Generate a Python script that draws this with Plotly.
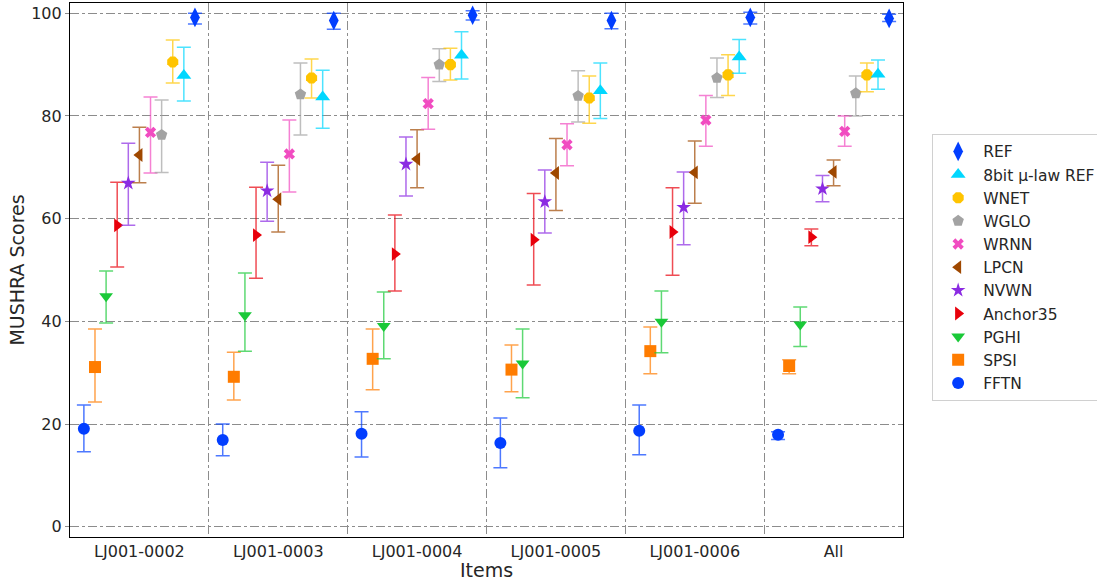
import plotly.graph_objects as go

ITEMS = ["LJ001-0002", "LJ001-0003", "LJ001-0004", "LJ001-0005", "LJ001-0006", "All"]

SYSTEMS = ["FFTN", "SPSI", "PGHI", "Anchor35", "NVWN", "LPCN", "WRNN", "WGLO", "WNET", "8bit µ-law REF", "REF"]

FFTN_MEAN = [19.1, 16.9, 18.1, 16.3, 18.7, 17.9]
FFTN_HI = [23.7, 20.0, 22.4, 21.2, 23.7, 18.5]
FFTN_LO = [14.6, 13.8, 13.6, 11.5, 14.0, 17.0]

SPSI_MEAN = [31.1, 29.2, 32.7, 30.6, 34.2, 31.3]
SPSI_HI = [38.5, 34.0, 38.5, 35.4, 38.9, 32.5]
SPSI_LO = [24.3, 24.7, 26.7, 26.3, 29.8, 29.8]

PGHI_MEAN = [44.9, 41.2, 39.1, 31.8, 39.9, 39.4]
PGHI_HI = [49.8, 49.4, 45.7, 38.5, 45.9, 42.8]
PGHI_LO = [39.7, 34.2, 32.7, 25.1, 33.9, 35.1]

ANCHOR_MEAN = [58.7, 56.8, 53.1, 55.9, 57.4, 56.4]
ANCHOR_HI = [67.1, 66.1, 60.7, 64.9, 66.0, 58.0]
ANCHOR_LO = [50.6, 48.4, 45.9, 47.1, 49.0, 54.7]

NVWN_MEAN = [66.9, 65.4, 70.6, 63.3, 62.2, 65.8]
NVWN_HI = [74.7, 71.0, 75.9, 69.5, 69.1, 68.4]
NVWN_LO = [58.7, 59.5, 64.4, 57.2, 54.9, 63.3]

LPCN_MEAN = [72.4, 63.8, 71.6, 68.9, 69.0, 69.1]
LPCN_HI = [77.8, 70.4, 77.3, 75.6, 75.1, 71.4]
LPCN_LO = [67.0, 57.4, 66.0, 61.6, 63.0, 66.4]

WRNN_MEAN = [76.8, 72.6, 82.4, 74.4, 79.2, 77.0]
WRNN_HI = [83.7, 79.2, 87.5, 78.5, 84.0, 80.0]
WRNN_LO = [68.9, 65.2, 77.4, 70.3, 74.1, 74.1]

WGLO_MEAN = [76.3, 84.2, 90.0, 83.9, 87.4, 84.4]
WGLO_HI = [83.1, 90.3, 93.1, 88.8, 91.3, 87.8]
WGLO_LO = [69.0, 76.3, 86.7, 78.8, 83.6, 80.0]

WNET_MEAN = [90.5, 87.4, 90.0, 83.5, 88.0, 88.0]
WNET_HI = [94.8, 91.1, 93.2, 87.8, 91.9, 90.3]
WNET_LO = [86.4, 83.5, 87.0, 78.6, 84.0, 84.7]

MULAW_MEAN = [87.9, 83.7, 91.8, 84.9, 91.5, 88.1]
MULAW_HI = [93.4, 88.9, 96.4, 90.3, 94.9, 90.9]
MULAW_LO = [82.9, 77.6, 87.2, 79.5, 88.3, 85.2]

REF_MEAN = [99.2, 98.6, 99.6, 98.6, 99.2, 99.0]
REF_HI = [100.0, 100.0, 100.5, 100.0, 100.2, 99.8]
REF_LO = [97.9, 96.9, 98.7, 97.0, 97.9, 98.4]

MEANS = [FFTN_MEAN, SPSI_MEAN, PGHI_MEAN, ANCHOR_MEAN, NVWN_MEAN, LPCN_MEAN,
         WRNN_MEAN, WGLO_MEAN, WNET_MEAN, MULAW_MEAN, REF_MEAN]
HIS = [FFTN_HI, SPSI_HI, PGHI_HI, ANCHOR_HI, NVWN_HI, LPCN_HI,
       WRNN_HI, WGLO_HI, WNET_HI, MULAW_HI, REF_HI]
LOS = [FFTN_LO, SPSI_LO, PGHI_LO, ANCHOR_LO, NVWN_LO, LPCN_LO,
       WRNN_LO, WGLO_LO, WNET_LO, MULAW_LO, REF_LO]

COLORS = ["#023eff", "#ff7c00", "#1ac938", "#e8000b", "#8b2be2", "#9f4800",
          "#f14cc1", "#a3a3a3", "#ffc400", "#00d7ff", "#023eff"]
SYMBOLS = ["circle", "square", "triangle-down", "triangle-right", "star", "triangle-left",
           "x", "pentagon", "octagon", "triangle-up", "diamond-tall"]
SIZES = [12, 12, 12, 12, 11, 12, 10, 12, 12, 13, 14]


def rgba(hexc, a):
    h = hexc.lstrip("#")
    r, g, b = int(h[0:2], 16), int(h[2:4], 16), int(h[4:6], 16)
    return f"rgba({r},{g},{b},{a})"


fig = go.Figure()
step = 0.08
n = len(SYSTEMS)
for i, name in enumerate(SYSTEMS):
    off = (i - (n - 1) / 2) * step
    xs = [k + off for k in range(len(ITEMS))]
    m = MEANS[i]
    up = [h - v for h, v in zip(HIS[i], m)]
    dn = [v - l for v, l in zip(m, LOS[i])]
    fig.add_trace(go.Scatter(
        x=xs, y=m, mode="markers", name=name,
        marker=dict(symbol=SYMBOLS[i], color=COLORS[i], size=SIZES[i],
                    line=dict(width=0)),
        error_y=dict(type="data", symmetric=False, array=up, arrayminus=dn,
                     color=rgba(COLORS[i], 0.7), thickness=1.5, width=7),
    ))

grid = "#8c8c8c"
fig.update_layout(
    width=1097, height=581,
    margin=dict(l=70, r=194, t=3, b=44, autoexpand=False),
    paper_bgcolor="white", plot_bgcolor="white",
    font=dict(family="DejaVu Sans", size=16, color="#262626"),
    showlegend=True,
    legend=dict(traceorder="reversed", x=1.035, xanchor="left", y=0.505, yanchor="middle",
                bordercolor="#d0d0d0", borderwidth=1, bgcolor="white",
                font=dict(size=15.5, family="DejaVu Sans", color="#262626"),
                itemsizing="trace", itemwidth=40),
    xaxis=dict(
        range=[-0.5, 5.5], tickmode="array", tickvals=list(range(len(ITEMS))), ticktext=ITEMS,
        showgrid=False, zeroline=False, showline=True, linecolor="black", linewidth=1.2,
        mirror=True, ticks="", tickfont=dict(size=16), automargin=False,
        title=dict(text="Items", font=dict(size=19), standoff=4),
        minor=dict(tickvals=[0.5, 1.5, 2.5, 3.5, 4.5], showgrid=True, gridcolor=grid,
                   griddash="dashdot", gridwidth=1, ticks=""),
    ),
    yaxis=dict(
        range=[-2, 102], tickmode="array", tickvals=[0, 20, 40, 60, 80, 100],
        showgrid=True, gridcolor=grid, griddash="dashdot", gridwidth=1,
        zeroline=False, showline=True, linecolor="black", linewidth=1.2, mirror=True,
        ticks="outside", ticklen=4, tickcolor=grid, tickfont=dict(size=16), automargin=False,
        title=dict(text="MUSHRA Scores", font=dict(size=19), standoff=1),
    ),
)

fig.write_html("out.html", config={"displayModeBar": False},
               post_script="document.body.style.margin='0';")
